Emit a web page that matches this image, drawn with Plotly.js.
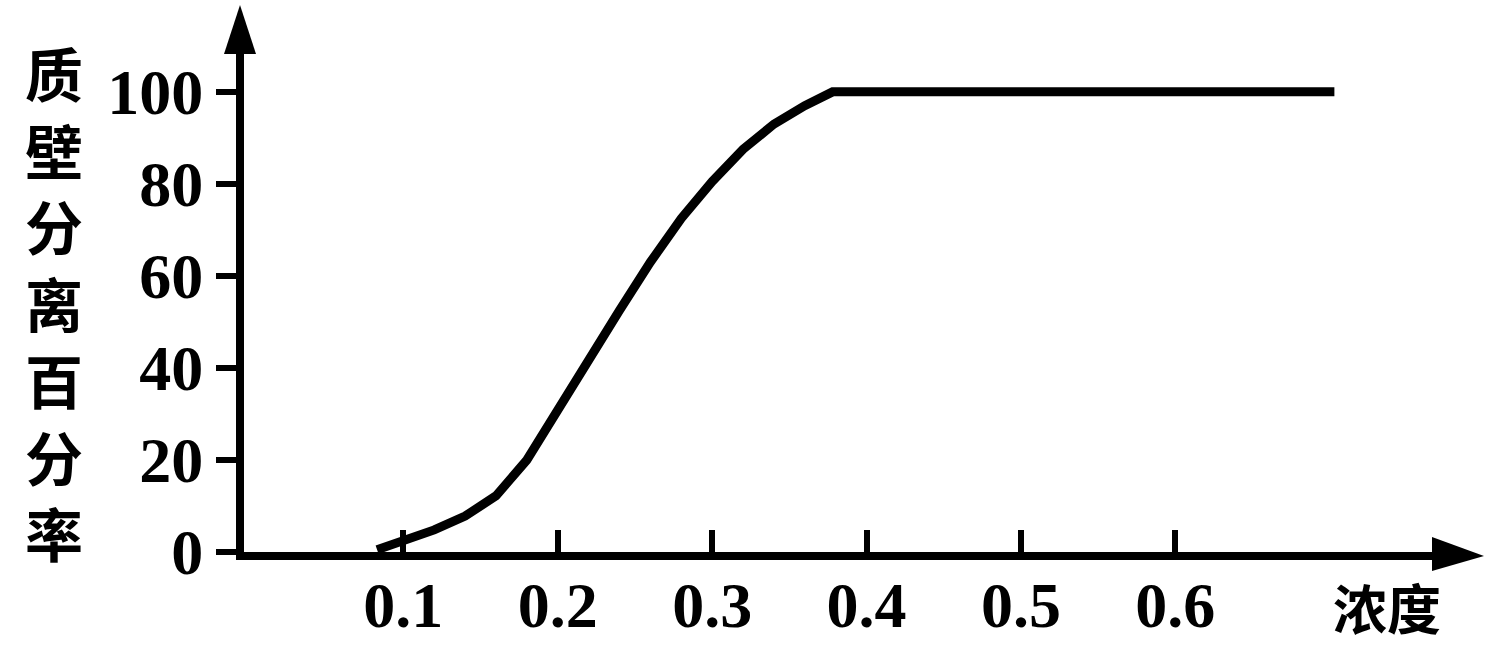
<!DOCTYPE html>
<html>
<head>
<meta charset="utf-8">
<script src="https://cdn.plot.ly/plotly-3.0.1.min.js"></script>
<style>html,body{margin:0;padding:0;background:#fff;}#chart{width:1512px;height:646px;}</style>
</head>
<body>
<div id="chart"></div>
<script>
// concentration values (x) and plasmolysis percentage (y)
const concentration = [0.083, 0.10, 0.12, 0.14, 0.16, 0.18, 0.20, 0.22, 0.24, 0.26, 0.28, 0.30, 0.32, 0.34, 0.36, 0.378, 0.703];
const plasmolysisPct = [0.5, 2.5, 4.8, 7.8, 12.2, 20, 31, 41.5, 52.5, 63, 72.5, 80.5, 87.5, 93, 97, 100, 100];
const xTickVals = [0.1, 0.2, 0.3, 0.4, 0.5, 0.6];
const xTickText = ['0.1', '0.2', '0.3', '0.4', '0.5', '0.6'];
const yTickVals = [0, 20, 40, 60, 80, 100];
const yTickText = ['0', '20', '40', '60', '80', '100'];
const yTitleChars = ['质', '壁', '分', '离', '百', '分', '率'];
const xTitle = '浓度';

const numFont = {family: 'Liberation Serif, DejaVu Serif, serif', size: 64, color: '#000', weight: 700};
const cjkFont = {family: 'Noto Sans CJK SC, sans-serif', size: 58, color: '#000', weight: 700};

const trace = {
  x: concentration,
  y: plasmolysisPct,
  mode: 'lines',
  line: {color: '#000', width: 9, shape: 'linear'},
  cliponaxis: false,
  hoverinfo: 'skip'
};

// vertical stacked y-axis title, one character per annotation
const titleAnnotations = yTitleChars.map((ch, i) => ({
  xref: 'paper', yref: 'paper', x: 0, y: 1,
  xshift: -190, yshift: -22 - i * 76.7,
  text: ch, showarrow: false, borderpad: 0,
  font: cjkFont, xanchor: 'center', yanchor: 'middle'
}));

const layout = {
  width: 1512, height: 646,
  margin: {l: 244, r: 72, t: 50, b: 94},
  paper_bgcolor: '#fff', plot_bgcolor: '#fff',
  showlegend: false,
  xaxis: {
    range: [-0.0032, 0.7714],
    showgrid: false, zeroline: false,
    showline: true, linecolor: '#000', linewidth: 8,
    tickmode: 'array', tickvals: xTickVals, ticktext: xTickText,
    ticks: 'inside', ticklen: 22, tickwidth: 6, tickcolor: '#000',
    ticklabelstandoff: -10,
    tickfont: numFont
  },
  yaxis: {
    range: [0, 109.1],
    showgrid: false, zeroline: false,
    showline: true, linecolor: '#000', linewidth: 8,
    tickmode: 'array', tickvals: yTickVals, ticktext: yTickText,
    ticks: 'outside', ticklen: 20, tickwidth: 6, tickcolor: '#000',
    tickfont: numFont
  },
  annotations: titleAnnotations.concat([
    {
      xref: 'paper', yref: 'paper', x: 1, y: 0,
      xshift: -53, yshift: -54,
      text: xTitle, showarrow: false,
      font: {family: cjkFont.family, size: 54, color: '#000', weight: 700},
      xanchor: 'center', yanchor: 'middle'
    }
  ]),
  shapes: [
    {
      type: 'path', xref: 'paper', yref: 'paper',
      xsizemode: 'pixel', ysizemode: 'pixel', xanchor: 1, yanchor: 0,
      path: 'M -8,-19 L 44,-4 L -8,15 Z',
      fillcolor: '#000', line: {width: 0}
    },
    {
      type: 'path', xref: 'paper', yref: 'paper',
      xsizemode: 'pixel', ysizemode: 'pixel', xanchor: 0, yanchor: 1,
      path: 'M -20,-4 L -4,45 L 12,-4 Z',
      fillcolor: '#000', line: {width: 0}
    }
  ]
};

Plotly.newPlot('chart', [trace], layout, {staticPlot: true, displayModeBar: false});
</script>
</body>
</html>
